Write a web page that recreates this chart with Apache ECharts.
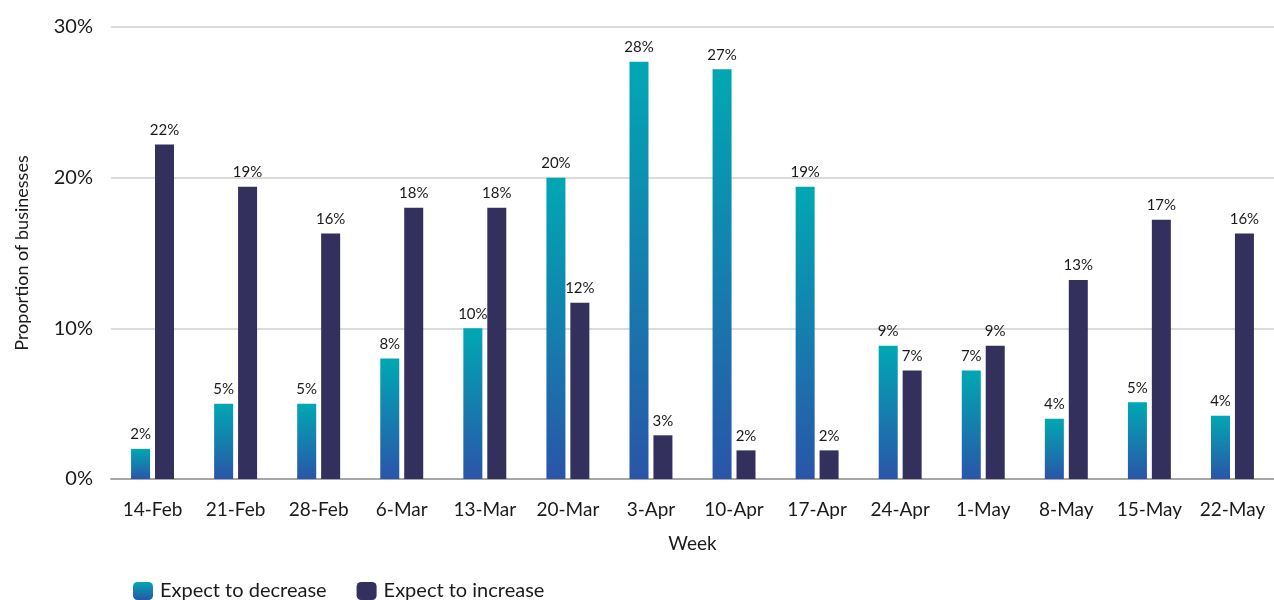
<!DOCTYPE html>
<html>
<head>
<meta charset="utf-8">
<script src="https://cdn.jsdelivr.net/npm/echarts@6/dist/echarts.min.js"></script>
<style>
  html, body { margin: 0; padding: 0; background: #fff; }
  #chart { width: 1274px; height: 600px; }
</style>
</head>
<body>
<div id="chart"></div>
<script>
// weeks on the x axis
var weeks = ["14-Feb", "21-Feb", "28-Feb", "6-Mar", "13-Mar", "20-Mar", "3-Apr",
  "10-Apr", "17-Apr", "24-Apr", "1-May", "8-May", "15-May", "22-May"];
// proportion of businesses (%)
var expectDecrease = [2.0, 5.0, 5.0, 8.0, 10.0, 20.0, 27.7, 27.2, 19.4, 8.85, 7.2, 4.0, 5.1, 4.2];
var expectIncrease = [22.2, 19.4, 16.3, 18.0, 18.0, 11.7, 2.9, 1.9, 1.9, 7.2, 8.85, 13.2, 17.2, 16.3];
var yTicks = [0, 10, 20, 30];

var font = "Lato";
var chart = echarts.init(document.getElementById("chart"));

var decGradient = new echarts.graphic.LinearGradient(0, 0, 0, 1, [
  { offset: 0, color: "#00a8b3" },
  { offset: 1, color: "#2a55a9" }
]);

var labelStyle = {
  show: true,
  position: "top",
  distance: 7,
  color: "#1a1a1a",
  fontSize: 15,
  fontFamily: font,
  formatter: function (p) {
    return Math.round(p.value) + "%";
  }
};

chart.setOption({
  animation: false,
  textStyle: { fontFamily: font },
  grid: {
    left: 111,
    right: -8,
    top: 27,
    bottom: 121
  },
  legend: {
    left: 128,
    top: 576,
    itemWidth: 20,
    itemHeight: 18,
    itemGap: 30,
    textStyle: { fontSize: 20, color: "#1a1a1a", fontFamily: font, padding: [0, 0, 0, 2] },
    data: ["Expect to decrease", "Expect to increase"]
  },
  xAxis: {
    type: "category",
    data: weeks,
    name: "Week",
    nameLocation: "middle",
    nameGap: 55,
    nameTextStyle: { fontSize: 19, color: "#1a1a1a" },
    axisTick: { show: false },
    axisLine: { lineStyle: { color: "#a6a6a6", width: 2 } },
    axisLabel: { fontSize: 19, color: "#1a1a1a", margin: 21, interval: 0 }
  },
  yAxis: {
    type: "value",
    min: yTicks[0],
    max: yTicks[yTicks.length - 1],
    interval: 10,
    name: "Proportion of businesses",
    nameLocation: "middle",
    nameGap: 80,
    nameTextStyle: { fontSize: 18, color: "#1a1a1a" },
    axisLine: { show: false },
    axisTick: { show: false },
    axisLabel: {
      fontSize: 20,
      color: "#1a1a1a",
      margin: 18,
      formatter: "{value}%"
    },
    splitLine: { lineStyle: { color: "#cfcfcf", width: 1.5 } }
  },
  series: [
    {
      name: "Expect to decrease",
      type: "bar",
      data: expectDecrease,
      barWidth: 19,
      barGap: "26%",
      itemStyle: { color: decGradient },
      label: labelStyle
    },
    {
      name: "Expect to increase",
      type: "bar",
      data: expectIncrease,
      barWidth: 19,
      itemStyle: { color: "#33305e" },
      label: labelStyle
    }
  ]
});
</script>
</body>
</html>
